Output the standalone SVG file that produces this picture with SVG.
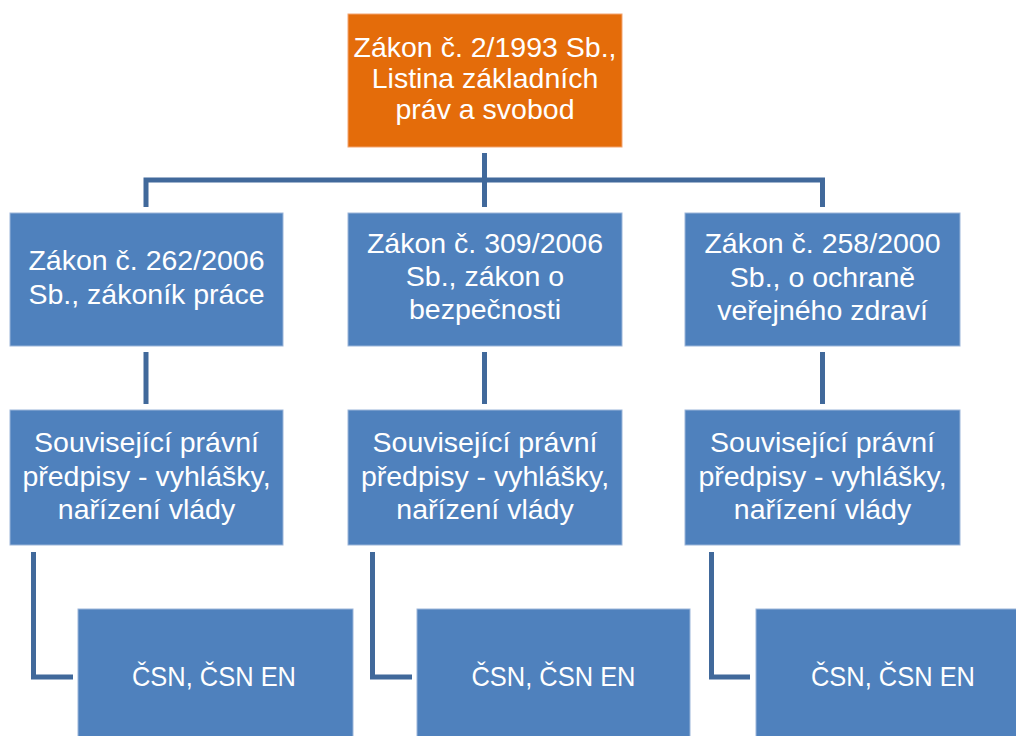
<svg xmlns="http://www.w3.org/2000/svg" width="1016" height="736" viewBox="0 0 1016 736">
<style>
.box{fill:#4F81BD;stroke:#9BB5D9;stroke-width:1}
.root{fill:#E46C0A;stroke:#F3A470;stroke-width:1}
.t{font-family:"Liberation Sans",Arial,sans-serif;font-size:28.5px;fill:#FFFFFF;text-anchor:middle}
.c{fill:none;stroke:#41699B;stroke-width:5;stroke-linejoin:miter;stroke-linecap:butt}
</style>
<rect width="1016" height="736" fill="#FFFFFF"/>
<g id="connectors">
<path class="c" d="M484.5 153V207"/>
<path class="c" d="M146 207V180H822.5V207"/>
<path class="c" d="M146 352V404"/>
<path class="c" d="M484.5 352V404"/>
<path class="c" d="M822.5 352V404"/>
<path class="c" d="M33.5 552V677H73"/>
<path class="c" d="M372.5 552V677H412"/>
<path class="c" d="M711.5 552V677H750"/>
</g>
<g id="n_root">
<rect class="root" x="348" y="14" width="274" height="133"/>
<text class="t" x="485" y="57">Zákon č. 2/1993 Sb.,</text>
<text class="t" x="485" y="88">Listina základních</text>
<text class="t" x="485" y="119">práv a svobod</text>
</g>
<g id="n_262">
<rect class="box" x="10" y="213" width="273" height="133"/>
<text class="t" x="146.5" y="270">Zákon č. 262/2006</text>
<text class="t" x="146.5" y="304">Sb., zákoník práce</text>
</g>
<g id="n_309">
<rect class="box" x="348" y="213" width="274" height="133"/>
<text class="t" x="485" y="253">Zákon č. 309/2006</text>
<text class="t" x="485" y="286">Sb., zákon o</text>
<text class="t" x="485" y="319">bezpečnosti</text>
</g>
<g id="n_258">
<rect class="box" x="685" y="213" width="275" height="133"/>
<text class="t" x="822.5" y="253">Zákon č. 258/2000</text>
<text class="t" x="822.5" y="287">Sb., o ochraně</text>
<text class="t" x="822.5" y="320">veřejného zdraví</text>
</g>
<g id="n_sub1">
<rect class="box" x="10" y="410" width="273" height="135"/>
<text class="t" x="146.5" y="452">Související právní</text>
<text class="t" x="146.5" y="486">předpisy - vyhlášky,</text>
<text class="t" x="146.5" y="519">nařízení vlády</text>
</g>
<g id="n_sub2">
<rect class="box" x="348" y="410" width="274" height="135"/>
<text class="t" x="485" y="452">Související právní</text>
<text class="t" x="485" y="486">předpisy - vyhlášky,</text>
<text class="t" x="485" y="519">nařízení vlády</text>
</g>
<g id="n_sub3">
<rect class="box" x="685" y="410" width="275" height="135"/>
<text class="t" x="822.5" y="452">Související právní</text>
<text class="t" x="822.5" y="486">předpisy - vyhlášky,</text>
<text class="t" x="822.5" y="519">nařízení vlády</text>
</g>
<g id="n_csn1">
<rect class="box" x="78" y="609" width="275" height="136"/>
<text class="t" x="214" y="686" textLength="164" lengthAdjust="spacingAndGlyphs">ČSN, ČSN EN</text>
</g>
<g id="n_csn2">
<rect class="box" x="417" y="609" width="273" height="136"/>
<text class="t" x="553.5" y="686" textLength="164" lengthAdjust="spacingAndGlyphs">ČSN, ČSN EN</text>
</g>
<g id="n_csn3">
<rect class="box" x="756" y="609" width="275" height="136"/>
<text class="t" x="893" y="686" textLength="164" lengthAdjust="spacingAndGlyphs">ČSN, ČSN EN</text>
</g>
</svg>
